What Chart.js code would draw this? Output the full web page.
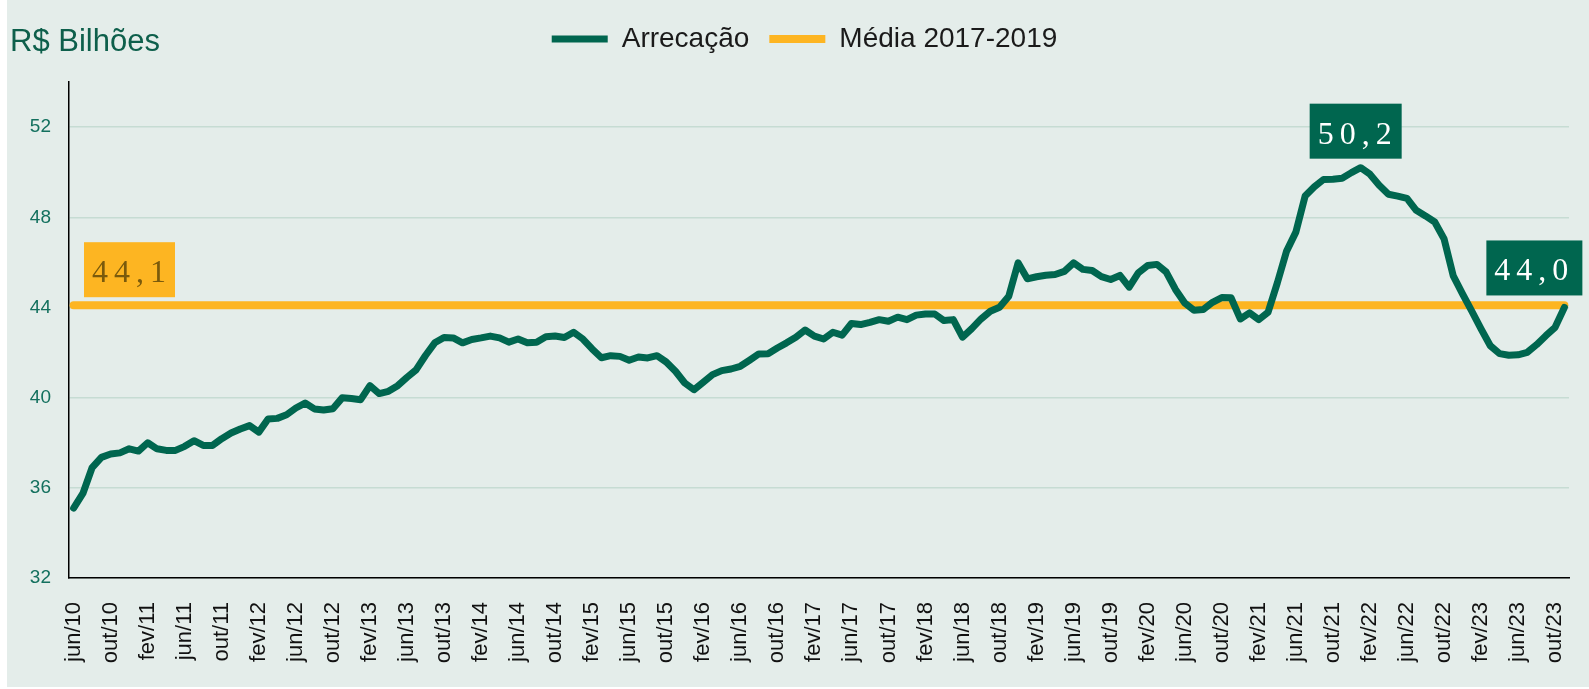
<!DOCTYPE html>
<html><head><meta charset="utf-8">
<script src="https://cdn.jsdelivr.net/npm/chart.js@4.4.1/dist/chart.umd.min.js"></script>
<style>html,body{margin:0;padding:0;background:#fff;}canvas{display:block;}</style>
</head><body>
<canvas id="c" width="1589" height="689"></canvas>
<script>
// ---- data ----
const monthNames = ['jan','fev','mar','abr','mai','jun','jul','ago','set','out','nov','dez'];
const startYear = 2010;
const startMonthIndex = 5; // jun/10
const arrecacao = [
  35.1, 35.75, 36.9, 37.35, 37.5, 37.55, 37.73, 37.63, 38.0, 37.73,
  37.66, 37.66, 37.84, 38.09, 37.88, 37.88, 38.18, 38.43, 38.61, 38.76,
  38.47, 39.05, 39.08, 39.24, 39.54, 39.76, 39.5, 39.45, 39.51, 39.99,
  39.96, 39.91, 40.53, 40.18, 40.28, 40.53, 40.9, 41.24, 41.87, 42.43,
  42.67, 42.65, 42.43, 42.58, 42.65, 42.73, 42.65, 42.46, 42.6, 42.43,
  42.46, 42.7, 42.73, 42.67, 42.9, 42.6, 42.16, 41.77, 41.86, 41.83,
  41.66, 41.8, 41.76, 41.86, 41.58, 41.17, 40.65, 40.35, 40.68, 41.02,
  41.2, 41.27, 41.39, 41.66, 41.94, 41.95, 42.2, 42.43, 42.68, 43.0,
  42.73, 42.6, 42.9, 42.77, 43.29, 43.24, 43.34, 43.46, 43.39, 43.57,
  43.46, 43.66, 43.71, 43.71, 43.42, 43.46, 42.68, 43.06, 43.49, 43.83,
  44.01, 44.5, 45.98, 45.27, 45.36, 45.43, 45.46, 45.6, 45.98, 45.69,
  45.64, 45.37, 45.24, 45.42, 44.9, 45.54, 45.86, 45.91, 45.57, 44.8,
  44.2, 43.88, 43.91, 44.23, 44.44, 44.43, 43.49, 43.76, 43.46, 43.79,
  45.09, 46.5, 47.34, 48.94, 49.35, 49.68, 49.69, 49.73, 49.98, 50.2,
  49.91, 49.42, 49.02, 48.94, 48.84, 48.31, 48.06, 47.79, 47.05, 45.4,
  44.6, 43.84, 43.05, 42.3, 41.95, 41.88, 41.9, 42.01, 42.35, 42.75,
  43.12, 44.0
];
const categories = arrecacao.map((_, i) => {
  const k = startMonthIndex + i;
  return monthNames[k % 12] + '/' + String(startYear + Math.floor(k / 12)).slice(2);
});
const tickEvery = 4;
const mediaValor = 44.1;
const mediaSerie = [
  {x: categories[0], y: mediaValor},
  {x: categories[categories.length - 1], y: mediaValor}
];
const yTicks = [32, 36, 40, 44, 48, 52];
const yMax = 54;

// ---- style ----
const GREEN = '#00664f';
const YELLOW = '#fdb522';
const BG = '#e4edea';
const FONT = '"Liberation Sans", Arial, sans-serif';
const SERIF = '"Liberation Serif", "Times New Roman", serif';

const fmt = v => v.toFixed(1).replace('.', ',');

const bgPlugin = {
  id: 'bg',
  beforeDraw(chart) {
    const ctx = chart.ctx;
    ctx.save();
    ctx.fillStyle = '#ffffff';
    ctx.fillRect(0, 0, chart.width, chart.height);
    ctx.fillStyle = BG;
    ctx.fillRect(7, 0, chart.width - 7, 687);
    ctx.fillStyle = '#0d5f4b';
    ctx.font = '31px ' + FONT;
    ctx.textBaseline = 'alphabetic';
    ctx.textAlign = 'left';
    ctx.fillText('R$ Bilhões', 10, 51);
    ctx.restore();
  }
};

function drawBox(ctx, left, top, w, h, fill, text, color) {
  ctx.save();
  ctx.fillStyle = fill;
  ctx.fillRect(left, top, w, h);
  ctx.fillStyle = color;
  ctx.font = '32px ' + SERIF;
  ctx.textAlign = 'left';
  ctx.textBaseline = 'alphabetic';
  try { ctx.letterSpacing = '6px'; } catch (e) {}
  ctx.fillText(text, left + 8, top + h - 15);
  ctx.restore();
}

const labelPlugin = {
  id: 'labels',
  afterDatasetsDraw(chart) {
    const ctx = chart.ctx;
    const xs = chart.scales.x, ys = chart.scales.y;
    const yb = ys.getPixelForValue(mediaValor);
    drawBox(ctx, chart.chartArea.left + 15, yb - 63, 91, 55, YELLOW, fmt(mediaValor), '#7a5a0c');
    const maxV = Math.max(...arrecacao);
    const iMax = arrecacao.indexOf(maxV);
    const px = xs.getPixelForValue(iMax), py = ys.getPixelForValue(maxV);
    drawBox(ctx, px - 51, py - 64, 92, 55, GREEN, fmt(maxV), '#ffffff');
    const iL = arrecacao.length - 1;
    const lx = xs.getPixelForValue(iL), ly = ys.getPixelForValue(arrecacao[iL]);
    drawBox(ctx, lx - 78, ly - 67, 96, 55, GREEN, fmt(arrecacao[iL]), '#ffffff');
  }
};

new Chart(document.getElementById('c'), {
  type: 'line',
  data: {
    labels: categories,
    datasets: [
      {
        label: 'Arrecação',
        data: arrecacao,
        borderColor: GREEN,
        backgroundColor: GREEN,
        borderWidth: 7,
        borderJoinStyle: 'round',
        borderCapStyle: 'round',
        pointRadius: 0,
        tension: 0
      },
      {
        label: 'Média 2017-2019',
        data: mediaSerie,
        borderColor: YELLOW,
        backgroundColor: YELLOW,
        borderWidth: 8,
        borderCapStyle: 'round',
        pointRadius: 0,
        tension: 0
      }
    ]
  },
  options: {
    responsive: false,
    animation: false,
    devicePixelRatio: 1,
    layout: { padding: { left: 20, right: 0, top: 5, bottom: 0 } },
    plugins: {
      legend: {
        position: 'top',
        align: 'center',
        labels: {
          usePointStyle: true,
          pointStyle: 'line',
          pointStyleWidth: 56,
          padding: 20,
          color: '#1a1a1a',
          font: { family: FONT, size: 28 }
        }
      },
      title: { display: false },
      tooltip: { enabled: false }
    },
    scales: {
      x: {
        type: 'category',
        offset: true,
        grid: { display: false, drawTicks: false },
        border: { display: true, color: '#000000', width: 1.5 },
        afterBuildTicks(s) { s.ticks = s.ticks.filter(t => t.value % tickEvery === 0); },
        afterFit(s) { s.height = 111; s.paddingLeft = 0; s.paddingRight = 0; },
        ticks: {
          autoSkip: false,
          minRotation: 90,
          maxRotation: 90,
          padding: 24,
          color: '#111111',
          font: { family: FONT, size: 22 }
        }
      },
      xTop: {
        type: 'category',
        position: 'top',
        grid: { display: false, drawTicks: false },
        border: { display: false },
        ticks: { display: false },
        afterFit(s) { s.height = 19; s.paddingLeft = 0; s.paddingRight = 0; }
      },
      y: {
        min: yTicks[0],
        max: yMax,
        afterFit(s) { s.width = 49; },
        afterBuildTicks(s) { s.ticks = yTicks.map(v => ({value: v})); },
        grid: { color: '#c6dcd3', lineWidth: 1.5, drawTicks: false },
        border: { display: true, color: '#000000', width: 1.5 },
        ticks: {
          padding: 18,
          color: '#13705e',
          font: { family: FONT, size: 19 }
        }
      },
      yR: {
        type: 'linear',
        position: 'right',
        grid: { display: false, drawTicks: false },
        border: { display: false },
        ticks: { display: false },
        afterFit(s) { s.width = 20; }
      }
    }
  },
  plugins: [bgPlugin, labelPlugin]
});
</script>
</body></html>
